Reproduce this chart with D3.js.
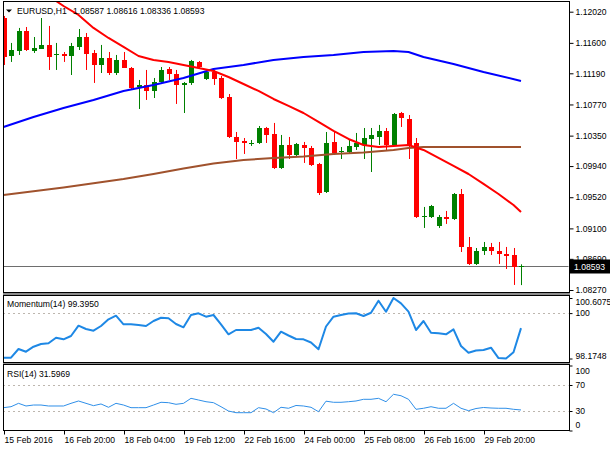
<!DOCTYPE html>
<html>
<head>
<meta charset="utf-8">
<script src="https://cdn.jsdelivr.net/npm/d3@7"></script>
<style>
body { margin: 0; background: #fff; }
svg text { font-family: "Liberation Sans", Arial, sans-serif; font-size: 8.6px; fill: #000; }
</style>
</head>
<body>
<svg id="chart"></svg>
<script>
// EURUSD H1 terminal window: candles + 3 moving averages, Momentum(14), RSI(14)
const symbol = "EURUSD";
const timeframe = "H1";

const opens = [1.11935,1.11423,1.11491,1.11760,1.11491,1.11518,1.11572,1.11437,1.11450,1.11423,
  1.11545,1.11679,1.11464,1.11302,1.11396,1.11194,1.11370,1.11262,1.11006,1.11033,
  1.10952,1.11073,1.11248,1.11181,1.11033,1.11060,1.11343,1.11113,1.11208,1.11127,
  1.10871,1.10332,1.10278,1.10238,1.10251,1.10453,1.10372,1.09914,1.10224,1.10089,
  1.10224,1.10184,1.09968,1.09591,1.10265,1.10130,1.10130,1.10197,1.10224,1.10305,
  1.10332,1.10413,1.10224,1.10655,1.10574,1.10251,1.09254,1.09254,1.09133,1.09254,
  1.09227,1.09564,1.08850,1.08621,1.08796,1.08850,1.08796,1.08755,1.08742,1.08587];
const highs = [1.11962,1.11599,1.11801,1.11814,1.11679,1.11935,1.11828,1.11599,1.11477,1.11599,
  1.11787,1.11733,1.11504,1.11572,1.11477,1.11437,1.11477,1.11275,1.11100,1.11235,
  1.11127,1.11275,1.11275,1.11235,1.11073,1.11370,1.11356,1.11235,1.11235,1.11154,
  1.10911,1.10399,1.10318,1.10291,1.10480,1.10467,1.10521,1.10359,1.10332,1.10251,
  1.10265,1.10211,1.09982,1.10399,1.10399,1.10197,1.10291,1.10386,1.10453,1.10453,
  1.10494,1.10453,1.10655,1.10669,1.10628,1.10318,1.09389,1.09416,1.09281,1.09335,
  1.09577,1.09631,1.08984,1.08836,1.08917,1.08904,1.08917,1.08850,1.08836,1.08616];
const lows = [1.11302,1.11343,1.11437,1.11491,1.11464,1.11518,1.11235,1.11235,1.11343,1.11167,
  1.11504,1.11235,1.11060,1.11194,1.11167,1.11167,1.11262,1.10965,1.10709,1.10831,
  1.10857,1.11060,1.11100,1.10777,1.10655,1.11033,1.11248,1.11100,1.11033,1.10844,
  1.10318,1.10035,1.10103,1.10211,1.10238,1.10251,1.09901,1.09901,1.10035,1.10076,
  1.09982,1.09941,1.09550,1.09577,1.10089,1.10035,1.10116,1.10157,1.10035,1.09860,
  1.10224,1.10157,1.10211,1.10467,1.10035,1.09240,1.09106,1.09240,1.09106,1.09160,
  1.09214,1.08782,1.08607,1.08607,1.08742,1.08742,1.08621,1.08553,1.08338,1.08336];
const closes = [1.11410,1.11504,1.11760,1.11504,1.11531,1.11572,1.11410,1.11450,1.11423,1.11558,
  1.11679,1.11450,1.11302,1.11396,1.11194,1.11370,1.11262,1.10992,1.11033,1.10952,
  1.11073,1.11235,1.11181,1.11033,1.11060,1.11356,1.11275,1.11208,1.11113,1.10857,
  1.10332,1.10265,1.10251,1.10251,1.10453,1.10359,1.09914,1.10224,1.10089,1.10238,
  1.10184,1.09955,1.09577,1.10251,1.10116,1.10143,1.10211,1.10251,1.10318,1.10359,
  1.10413,1.10224,1.10642,1.10588,1.10224,1.09254,1.09267,1.09402,1.09254,1.09227,
  1.09564,1.08850,1.08621,1.08796,1.08850,1.08796,1.08755,1.08728,1.08580,1.08593];

// moving averages, read at these bar positions
const maFastIdx = [6,7,8,10,12,14,16,18,20,22,24,26,28,30,32,34,36,38,40,42,44,46,48,50,52,54,56,58,60,62,64,66,68,69];
const maFast = [1.12280,1.12165,1.12097,1.11976,1.11801,1.11666,1.11545,1.11423,1.11370,1.11343,1.11302,1.11262,1.11221,1.11140,
  1.11046,1.10952,1.10844,1.10750,1.10655,1.10534,1.10413,1.10305,1.10224,1.10197,1.10211,1.10224,1.10157,1.10049,
  1.09941,1.09833,1.09699,1.09564,1.09416,1.09321];
const maMidIdx = [0,4,8,12,16,20,24,28,32,36,40,44,48,52,54,56,60,64,69];
const maMid = [1.10467,1.10601,1.10723,1.10831,1.10952,1.11033,1.11127,1.11248,1.11302,1.11370,1.11410,1.11437,1.11477,
  1.11491,1.11477,1.11410,1.11316,1.11208,1.11087];
const maSlowIdx = [0,8,16,20,24,28,32,36,40,44,48,52,54,56,69];
const maSlow = [1.09550,1.09651,1.09766,1.09833,1.09908,1.09975,1.10022,1.10049,1.10069,1.10103,1.10123,1.10157,
  1.10184,1.10197,1.10197];

const momentum = [98.21,98.21,98.557,98.448,98.649,98.758,98.786,99.011,98.947,99.080,
  99.494,99.361,99.293,99.482,99.751,99.896,99.550,99.550,99.522,99.482,
  99.683,99.815,99.791,99.562,99.429,99.924,99.992,99.856,99.924,99.550,
  99.148,99.321,99.321,99.321,99.413,99.160,98.850,99.252,99.100,98.959,
  98.947,98.818,98.545,99.462,99.856,99.924,99.984,99.992,99.884,100.016,
  100.499,100.057,100.6075,100.394,100.057,99.321,99.683,99.212,99.188,99.148,
  99.349,98.677,98.408,98.497,98.517,98.609,98.19,98.1748,98.424,99.395];
const rsi = [35.1,36.6,41.8,37.7,39.2,39.2,37.7,37.7,37.7,41.8,
  45.4,41.8,38.2,40.8,35.7,41.8,39.2,35.1,35.1,35.1,
  39.2,43.4,42.8,40.3,41.8,49.5,46.9,44.3,42.8,36.6,
  30.0,27.4,27.4,27.4,35.1,33.1,27.4,35.7,34.2,38.5,
  37.7,35.7,28.9,45.1,43.4,43.4,44.3,45.4,48.0,48.0,
  49.5,44.3,55.7,53.5,48.0,32.6,34.2,36.6,34.2,34.2,
  41.8,34.2,30.5,33.8,35.4,34.6,34.2,34.2,32.6,31.5969];

const priceTicks = [1.12020,1.11600,1.11190,1.10770,1.10350,1.09940,1.09520,1.09100,1.08690,1.08270];
const dateTickIdx = [0,8,16,24,32,40,48,56,64];
const dateTickLabels = ["15 Feb 2016","16 Feb 20:00","18 Feb 04:00","19 Feb 12:00","22 Feb 16:00",
  "24 Feb 00:00","25 Feb 08:00","26 Feb 16:00","29 Feb 20:00"];
const momTicks = [100.6075, 100, 98.1748];
const momLevels = [100];
const rsiTicks = [100, 70, 30, 0];
const rsiLevels = [70, 30];


class TerminalChart {

    constructor( config ) {
        this.config = {
            parent: config.parent,
            width: config.width || 610,
            height: config.height || 450,
            left: 3,
            right: 569,
            main: {top: 1, bottom: 292},
            mom: {top: 295, bottom: 362},
            rsi: {top: 364, bottom: 430},
        }
        this.init();
    }

    init() {
        let self = this;
        const c = self.config;

        self.svg = d3.select( c.parent )
            .attr('width', c.width)
            .attr('height', c.height);

        self.xscale = d3.scaleLinear()
            .domain( [0, closes.length - 1] )
            .range( [3.5, 521] );

        self.yprice = d3.scaleLinear()
            .domain( [1.08270, 1.12020] )
            .range( [290, 11.7] );

        self.ymom = d3.scaleLinear()
            .domain( [98.1748, 100.6075] )
            .range( [358.5, 298] );

        self.yrsi = d3.scaleLinear()
            .domain( [0, 100] )
            .range( [430.5, 365.5] );

        const defs = self.svg.append('defs');
        ['main', 'mom', 'rsi'].forEach(k => {
            defs.append('clipPath').attr('id', 'clip-' + k)
                .append('rect')
                .attr('x', c.left + 0.5)
                .attr('y', c[k].top + 0.5)
                .attr('width', c.right - c.left - 1)
                .attr('height', c[k].bottom - c[k].top - 1);
        });

        // separators between the sub windows
        self.svg.append('rect')
            .attr('x', c.left).attr('y', c.main.bottom)
            .attr('width', c.right - c.left + 1).attr('height', c.mom.top - c.main.bottom)
            .attr('fill', '#8c8c8c');
        self.svg.append('rect')
            .attr('x', c.left).attr('y', c.mom.bottom)
            .attr('width', c.right - c.left + 1).attr('height', c.rsi.top - c.mom.bottom)
            .attr('fill', '#8c8c8c');

        self.mainG = self.svg.append('g').attr('clip-path', 'url(#clip-main)');
        self.momG = self.svg.append('g').attr('clip-path', 'url(#clip-mom)');
        self.rsiG = self.svg.append('g').attr('clip-path', 'url(#clip-rsi)');
        self.axes = self.svg.append('g');
        self.frames = self.svg.append('g');
    }

    render() {
        let self = this;
        const c = self.config;
        const x = self.xscale;
        const yp = self.yprice;

        // dotted level lines
        self.momG.selectAll('.lvl')
            .data(momLevels)
            .join('line')
            .attr('x1', c.left).attr('x2', c.right)
            .attr('y1', d => Math.round(self.ymom(d)) + 0.5)
            .attr('y2', d => Math.round(self.ymom(d)) + 0.5)
            .attr('stroke', '#bdb6ae').attr('stroke-dasharray', '2,3');
        self.rsiG.selectAll('.lvl')
            .data(rsiLevels)
            .join('line')
            .attr('x1', c.left).attr('x2', c.right)
            .attr('y1', d => Math.round(self.yrsi(d)) + 0.5)
            .attr('y2', d => Math.round(self.yrsi(d)) + 0.5)
            .attr('stroke', '#bdb6ae').attr('stroke-dasharray', '2,3');

        // bid line
        const bidY = Math.round(yp(closes[closes.length - 1])) + 0.5;
        self.mainG.append('line')
            .attr('x1', c.left).attr('x2', c.right)
            .attr('y1', bidY).attr('y2', bidY)
            .attr('stroke', '#6e6e6e');

        // candles
        const bars = d3.range(closes.length);
        const color = i => closes[i] >= opens[i] ? '#008000' : '#ff0000';
        const cx = i => Math.round(x(i));

        self.mainG.selectAll('.wick')
            .data(bars)
            .join('line')
            .attr('x1', i => cx(i) + 0.5).attr('x2', i => cx(i) + 0.5)
            .attr('y1', i => yp(highs[i])).attr('y2', i => yp(lows[i]))
            .attr('stroke', color);

        self.mainG.selectAll('.body')
            .data(bars)
            .join('rect')
            .attr('x', i => cx(i) - 2)
            .attr('width', 5)
            .attr('y', i => Math.round(Math.min(yp(opens[i]), yp(closes[i]))))
            .attr('height', i => Math.max(1, Math.round(Math.abs(yp(opens[i]) - yp(closes[i])))))
            .attr('fill', color);

        // moving averages
        const maLine = d3.line()
            .x(d => x(d[0]))
            .y(d => yp(d[1]));
        [
            [maSlowIdx, maSlow, '#a0522d'],
            [maMidIdx, maMid, '#0000ff'],
            [maFastIdx, maFast, '#ff0000'],
        ].forEach(([idx, vals, col]) => {
            self.mainG.append('path')
                .attr('d', maLine(idx.map((d, k) => [d, vals[k]])))
                .attr('fill', 'none')
                .attr('stroke', col)
                .attr('stroke-width', 2)
                .attr('stroke-linejoin', 'round');
        });

        // indicators
        self.momG.append('path')
            .attr('d', d3.line().x((d, i) => x(i)).y(d => self.ymom(d))(momentum))
            .attr('fill', 'none')
            .attr('stroke', '#1e88e5')
            .attr('stroke-width', 2)
            .attr('stroke-linejoin', 'round');

        self.rsiG.append('path')
            .attr('d', d3.line().x((d, i) => x(i)).y(d => self.yrsi(d))(rsi))
            .attr('fill', 'none')
            .attr('stroke', '#2f8fe8')
            .attr('stroke-width', 1);

        // frames
        ['main', 'mom', 'rsi'].forEach(k => {
            self.frames.append('rect')
                .attr('x', c.left + 0.5).attr('y', c[k].top + 0.5)
                .attr('width', c.right - c.left)
                .attr('height', c[k].bottom - c[k].top)
                .attr('fill', 'none')
                .attr('stroke', '#000');
        });

        // axes
        const priceAxis = d3.axisRight(yp)
            .tickValues(priceTicks)
            .tickFormat(d3.format('.5f'))
            .tickSize(4)
            .tickPadding(2);
        self.axes.append('g')
            .attr('transform', `translate(${c.right + 0.5}, 0)`)
            .call(priceAxis)
            .call(g => g.select('.domain').remove());

        const momOffset = [4, 0, -2.5];
        self.axes.append('g')
            .attr('transform', `translate(${c.right + 0.5}, 0)`)
            .call(d3.axisRight(self.ymom).tickValues(momTicks).tickFormat(d => String(d)).tickSize(3).tickPadding(3))
            .call(g => g.select('.domain').remove())
            .call(g => g.selectAll('text').attr('y', (d, k) => momOffset[k]));

        const rsiOffset = [5.5, 0, 0, -6];
        self.axes.append('g')
            .attr('transform', `translate(${c.right + 0.5}, 0)`)
            .call(d3.axisRight(self.yrsi).tickValues(rsiTicks).tickSize(3).tickPadding(3))
            .call(g => g.select('.domain').remove())
            .call(g => g.selectAll('text').attr('y', (d, k) => rsiOffset[k]));

        self.axes.append('g')
            .attr('transform', `translate(0.5, ${c.rsi.bottom + 0.5})`)
            .call(d3.axisBottom(x).tickValues(dateTickIdx).tickFormat((d, k) => dateTickLabels[k]).tickSize(4).tickPadding(2))
            .call(g => g.select('.domain').remove())
            .call(g => g.selectAll('text').attr('text-anchor', 'start').attr('x', 0));

        // current price tag
        const last = closes.length - 1;
        self.axes.append('rect')
            .attr('x', c.right + 1).attr('y', bidY - 7)
            .attr('width', 40).attr('height', 14)
            .attr('fill', '#000');
        self.axes.append('text')
            .attr('x', c.right + 5).attr('y', bidY + 3)
            .style('fill', '#fff')
            .text(d3.format('.5f')(closes[last]));

        // window labels
        self.axes.append('path')
            .attr('d', 'M6,9.5 L12,9.5 L9,12.5 Z')
            .attr('fill', '#000');
        self.axes.append('text')
            .attr('x', 17).attr('y', 13.5)
            .text(`${symbol},${timeframe}`);
        self.axes.append('text')
            .attr('x', 73).attr('y', 13.5)
            .text([opens[last], highs[last], lows[last], closes[last]].map(d3.format('.5f')).join(' '));
        self.axes.append('text')
            .attr('x', 7).attr('y', 307)
            .text(`Momentum(14) ${momentum[last].toFixed(4)}`);
        self.axes.append('text')
            .attr('x', 7).attr('y', 376.5)
            .text(`RSI(14) ${rsi[last].toFixed(4)}`);
    }
}

const chart = new TerminalChart({ parent: '#chart', width: 610, height: 450 });
chart.render();
</script>
</body>
</html>
